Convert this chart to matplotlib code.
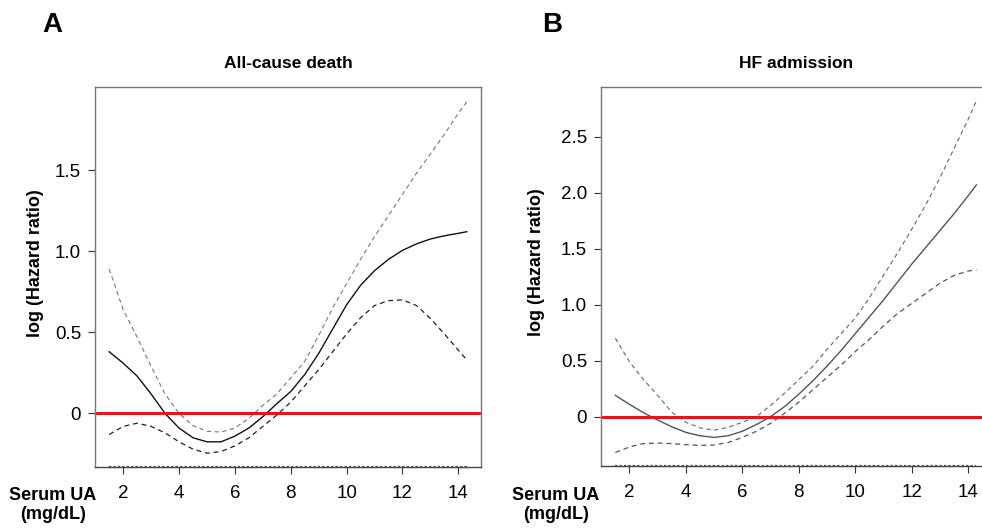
import matplotlib
matplotlib.use("Agg")
import matplotlib.pyplot as plt

plt.rcParams['font.family'] = ['Liberation Sans', 'DejaVu Sans']

# serum uric acid grid (mg/dL)
ua = [1.5, 2, 2.5, 3, 3.5, 4, 4.5, 5, 5.5, 6, 6.5, 7, 7.5, 8, 8.5,
      9, 9.5, 10, 10.5, 11, 11.5, 12, 12.5, 13, 13.5, 14, 14.3]

# A: all-cause death, log HR with 95% CI
death_fit = [0.38, 0.31, 0.23, 0.12, 0.0, -0.09, -0.15, -0.175, -0.175, -0.14,
             -0.09, -0.02, 0.06, 0.135, 0.24, 0.37, 0.52, 0.67, 0.79, 0.88,
             0.95, 1.005, 1.045, 1.075, 1.095, 1.11, 1.12]
death_upper = [0.89, 0.64, 0.47, 0.29, 0.12, 0.0, -0.075, -0.11, -0.115, -0.09,
               -0.03, 0.05, 0.12, 0.22, 0.32, 0.48, 0.65, 0.80, 0.95, 1.09,
               1.22, 1.35, 1.48, 1.60, 1.72, 1.85, 1.92]
death_lower = [-0.13, -0.08, -0.06, -0.08, -0.12, -0.175, -0.22, -0.245, -0.235, -0.2,
               -0.15, -0.08, -0.01, 0.07, 0.17, 0.27, 0.38, 0.49, 0.59, 0.665,
               0.695, 0.70, 0.665, 0.585, 0.49, 0.39, 0.33]

# B: HF admission, log HR with 95% CI
hf_fit = [0.19, 0.11, 0.035, -0.03, -0.09, -0.14, -0.17, -0.185, -0.17, -0.13,
          -0.07, 0.0, 0.09, 0.20, 0.32, 0.45, 0.59, 0.74, 0.89, 1.04,
          1.20, 1.36, 1.51, 1.66, 1.81, 1.97, 2.07]
hf_upper = [0.70, 0.49, 0.33, 0.19, 0.04, -0.05, -0.10, -0.12, -0.095, -0.05,
            0.0, 0.10, 0.21, 0.33, 0.45, 0.60, 0.74, 0.88, 1.06, 1.26,
            1.46, 1.67, 1.89, 2.13, 2.39, 2.65, 2.82]
hf_lower = [-0.32, -0.27, -0.24, -0.235, -0.24, -0.25, -0.256, -0.253, -0.23, -0.185,
            -0.13, -0.06, 0.03, 0.13, 0.24, 0.35, 0.46, 0.58, 0.69, 0.81,
            0.92, 1.01, 1.10, 1.19, 1.26, 1.30, 1.31]

rug_range = [1.5, 14.3]
x_ticks = [2, 4, 6, 8, 10, 12, 14]
death_yticks = [0, 0.5, 1.0, 1.5]
hf_yticks = [0, 0.5, 1.0, 1.5, 2.0, 2.5]


def ytick_label(v):
    return "0" if v == 0 else "%.1f" % v


def spline_panel(ax, fit, upper, lower, yticks, ylim, title, fit_col, up_col, low_col):
    ax.plot(ua, fit, color=fit_col, lw=1.0)
    ax.plot(ua, upper, color=up_col, lw=0.8, ls=(0, (4, 3)))
    ax.plot(ua, lower, color=low_col, lw=0.9, ls=(0, (4, 3)))
    ax.axhline(0, color='#e8141b', lw=2.2)
    ax.set_xlim(0.99, 14.81)
    ax.set_ylim(*ylim)
    ax.plot(rug_range, [ylim[0]] * 2, color='#555555', lw=1.6, ls=(0, (1, 1)), clip_on=False)
    ax.set_xticks(x_ticks)
    ax.set_yticks(yticks)
    ax.set_yticklabels([ytick_label(v) for v in yticks])
    ax.tick_params(axis='both', labelsize=13.5, color='#333333', length=5, width=0.8)
    ax.tick_params(axis='x', pad=8)
    ax.tick_params(axis='y', pad=5)
    for s in ax.spines.values():
        s.set_color('#777777')
        s.set_linewidth(1.0)
    ax.spines['bottom'].set_color('#444444')
    ax.set_title(title, fontsize=12.5, fontweight='bold', pad=14)
    ax.set_ylabel("log (Hazard ratio)", fontsize=13, fontweight='bold')


fig = plt.figure(figsize=(9.82, 5.30), dpi=100)
ax1 = fig.add_axes([0.0967, 0.1189, 0.3931, 0.7164])
ax2 = fig.add_axes([0.612, 0.1213, 0.397, 0.714])

spline_panel(ax1, death_fit, death_upper, death_lower, death_yticks, (-0.33, 2.01),
             "All-cause death", '#111111', '#777777', '#222222')
spline_panel(ax2, hf_fit, hf_upper, hf_lower, hf_yticks, (-0.4375, 2.94),
             "HF admission", '#555555', '#666666', '#555555')
ax1.yaxis.set_label_coords(-0.133, 0.538)
ax2.yaxis.set_label_coords(-0.144, 0.538)

fig.text(0.053, 0.953, "A", fontsize=20, fontweight='bold', ha='center', va='center')
fig.text(0.562, 0.953, "B", fontsize=20, fontweight='bold', ha='center', va='center')
fig.text(0.054, 0.047, "Serum UA\n(mg/dL)", fontsize=13, fontweight='bold',
         ha='center', va='center', linespacing=1.15)
fig.text(0.566, 0.047, "Serum UA\n(mg/dL)", fontsize=13, fontweight='bold',
         ha='center', va='center', linespacing=1.15)

fig.savefig("out.png", dpi=100)
